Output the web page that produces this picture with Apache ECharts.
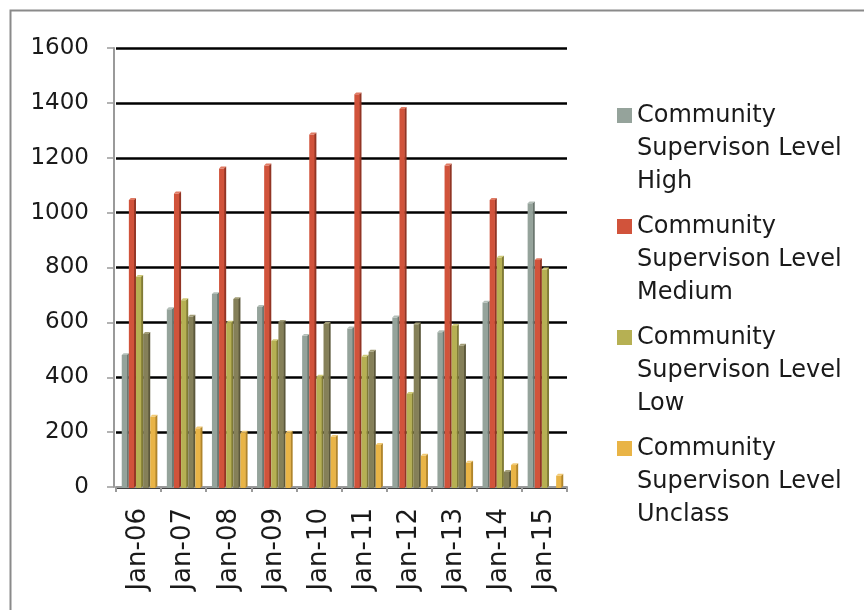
<!DOCTYPE html>
<html>
<head>
<meta charset="utf-8">
<script src="https://cdn.jsdelivr.net/npm/echarts@6/dist/echarts.min.js"></script>
<style>
  html, body { margin: 0; padding: 0; background: #fff; }
  #chart { width: 864px; height: 610px; }
</style>
</head>
<body>
<div id="chart"></div>
<script>
// Yearly community supervision counts by level
const categories = ['Jan-06', 'Jan-07', 'Jan-08', 'Jan-09', 'Jan-10', 'Jan-11', 'Jan-12', 'Jan-13', 'Jan-14', 'Jan-15'];
const levelHigh    = [481, 648, 703, 656, 551, 578, 618, 564, 672, 1034];
const levelMedium  = [1046, 1070, 1161, 1172, 1285, 1431, 1378, 1172, 1046, 827];
const levelLow     = [766, 681, 599, 532, 402, 475, 339, 587, 836, 793];
const levelOther   = [558, 621, 685, 602, 594, 493, 593, 515, 55, 0];
const levelUnclass = [256, 214, 198, 198, 183, 153, 114, 89, 80, 41];
const yTicks = { min: 0, max: 1600, interval: 200 };

const seriesDefs = [
  { name: 'Community\nSupervison Level\nHigh',    values: levelHigh,    front: '#95a39b', side: '#6b7770', top: '#b3beb7' },
  { name: 'Community\nSupervison Level\nMedium',  values: levelMedium,  front: '#d1533b', side: '#923524', top: '#e07a63' },
  { name: 'Community\nSupervison Level\nLow',     values: levelLow,     front: '#b6b053', side: '#807b36', top: '#cfca78' },
  { name: 'Community\nSupervison Level\nOther',   values: levelOther,   front: '#858059', side: '#5c583b', top: '#a19c76' },
  { name: 'Community\nSupervison Level\nUnclass', values: levelUnclass, front: '#e9b446', side: '#b0852c', top: '#f2ca74' }
];
const nSeries = seriesDefs.length;

// Draws one bar as a front face plus a shaded side and top, giving a shallow 3D look
function makeRenderer(def, index) {
  return function (params, api) {
    const v = api.value(1);
    if (!v) return null;
    const cat = api.value(0);
    const base = api.coord([cat, 0]);
    const top = api.coord([cat, v]);
    const catW = api.size([1, 0])[0];
    const groupW = catW * 0.79;
    const bw = groupW / nSeries;
    const d = 1.9;
    const x0 = base[0] - groupW / 2 + index * bw + 1;
    const x1 = x0 + bw - d;
    const yb = base[1] + 1;
    const yt = top[1];
    return {
      type: 'group',
      children: [
        { type: 'polygon', shape: { points: [[x1 - 0.5, yt], [x1 + d, yt - d], [x1 + d, yb - d], [x1 - 0.5, yb]] },
          style: { fill: def.side } },
        { type: 'rect', shape: { x: x0, y: yt, width: x1 - x0, height: yb - yt },
          style: { fill: def.front } },
        { type: 'polygon', shape: { points: [[x0, yt], [x0 + d, yt - d], [x1 + d, yt - d], [x1, yt]] },
          style: { fill: def.top } }
      ]
    };
  };
}

const chart = echarts.init(document.getElementById('chart'), null, { renderer: 'canvas' });

chart.setOption({
  backgroundColor: '#ffffff',
  animation: false,
  graphic: [
    { type: 'rect', left: 8, top: 8, shape: { x: 0, y: 0, width: 920, height: 700 },
      style: { fill: 'none', stroke: '#8a8a8a', lineWidth: 2 }, silent: true }
  ],
  grid: { left: 116, right: 297, top: 48, bottom: 123, containLabel: false },
  legend: {
    orient: 'vertical',
    left: 617,
    top: 33,
    padding: 0,
    itemWidth: 15,
    itemHeight: 15,
    itemGap: -54,
    icon: 'rect',
    data: [seriesDefs[0].name, seriesDefs[1].name, seriesDefs[2].name, seriesDefs[4].name],
    // two leading blank lines keep the swatch level with the first text line
    formatter: function (name) { return '\n\n' + name; },
    textStyle: {
      fontFamily: 'DejaVu Sans',
      fontSize: 24,
      color: '#1a1a1a',
      lineHeight: 33
    }
  },
  xAxis: {
    type: 'category',
    data: categories,
    offset: 3,
    axisLine: { show: true, lineStyle: { color: '#9a9a9a', width: 2 } },
    axisTick: { show: true, length: 5, alignWithLabel: false, lineStyle: { color: '#9a9a9a', width: 2 } },
    axisLabel: {
      rotate: 90,
      margin: 18,
      fontFamily: 'DejaVu Sans',
      fontSize: 26,
      color: '#1a1a1a'
    },
    splitLine: { show: false }
  },
  yAxis: {
    type: 'value',
    min: yTicks.min,
    max: yTicks.max,
    interval: yTicks.interval,
    offset: 2,
    axisLine: { show: true, lineStyle: { color: '#9a9a9a', width: 2 } },
    axisTick: { show: true, length: 7, lineStyle: { color: '#9a9a9a', width: 1.5 } },
    axisLabel: {
      margin: 25,
      fontFamily: 'DejaVu Sans',
      fontSize: 23,
      color: '#1a1a1a',
      formatter: function (v) { return String(v); }
    },
    splitLine: { show: true, lineStyle: { color: '#000000', width: 2.6 } }
  },
  series: seriesDefs.map(function (def, i) {
    return {
      type: 'custom',
      name: def.name,
      renderItem: makeRenderer(def, i),
      encode: { x: 0, y: 1 },
      clip: false,
      itemStyle: { color: def.front },
      data: def.values.map(function (v, c) { return [c, v]; })
    };
  })
});
</script>
</body>
</html>
